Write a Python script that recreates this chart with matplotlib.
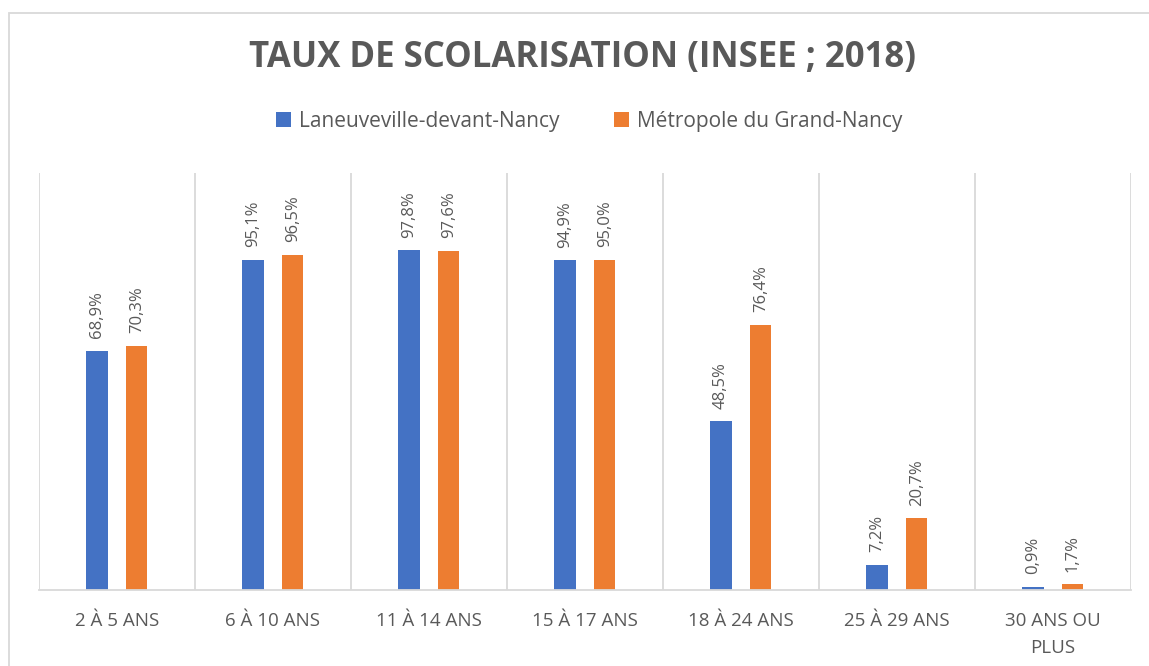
import matplotlib.pyplot as plt
import numpy as np
from matplotlib.patches import Rectangle

categories = ["2 À 5 ANS", "6 À 10 ANS", "11 À 14 ANS", "15 À 17 ANS",
              "18 À 24 ANS", "25 À 29 ANS", "30 ANS OU\nPLUS"]
laneuveville = [68.9, 95.1, 97.8, 94.9, 48.5, 7.2, 0.9]
metropole = [70.3, 96.5, 97.6, 95.0, 76.4, 20.7, 1.7]
series_names = ["Laneuveville-devant-Nancy", "Métropole du Grand-Nancy"]

blue = "#4472C4"
orange = "#ED7D31"
grey = "#595959"

plt.rcParams['font.family'] = ['Open Sans', 'DejaVu Sans']

fig = plt.figure(figsize=(11.49, 6.66), dpi=100)
ax = fig.add_axes([0.0339, 0.1141, 0.9504, 0.6261])

x = np.arange(len(categories))
w = 0.135
off = 0.128
b1 = ax.bar(x - off, laneuveville, w, color=blue, label=series_names[0])
b2 = ax.bar(x + off, metropole, w, color=orange, label=series_names[1])

for bars, vals in [(b1, laneuveville), (b2, metropole)]:
    for b, v in zip(bars, vals):
        ax.annotate(f"{v:.1f}%".replace(".", ","),
                    (b.get_x() + b.get_width() / 2, v),
                    xytext=(0, 9), textcoords="offset points",
                    rotation=90, ha="center", va="bottom",
                    fontsize=12, color=grey)

ax.set_xlim(-0.5, len(categories) - 0.5)
ax.set_ylim(0, 120)
for s in np.arange(-0.5, len(categories), 1):
    ax.axvline(s, color="#D9D9D9", lw=1.3, zorder=0)

for sp in ["top", "right", "left"]:
    ax.spines[sp].set_visible(False)
ax.spines["bottom"].set_color("#D9D9D9")
ax.spines["bottom"].set_linewidth(1.3)
ax.set_yticks([])
ax.set_xticks(x)
ax.set_xticklabels(categories, fontsize=13.5, color=grey, linespacing=1.6)
ax.tick_params(axis="x", length=0, pad=16)

fig.text(0.507, 0.913, "TAUX DE SCOLARISATION (INSEE ; 2018)", ha="center",
         va="center", fontsize=25, fontweight="bold", color=grey)

fig.legend(loc="center", bbox_to_anchor=(0.513, 0.818), ncol=2, frameon=False,
           fontsize=15, labelcolor=grey, handlelength=0.7, handleheight=0.7,
           columnspacing=2.6, handletextpad=0.4)

fig.patches.append(Rectangle((9 / 1149, -0.1), 1.2, 1 - 13 / 666 + 0.1,
                             transform=fig.transFigure, fill=False,
                             edgecolor="#D9D9D9", lw=1.3))

fig.savefig("out.png", dpi=100)
